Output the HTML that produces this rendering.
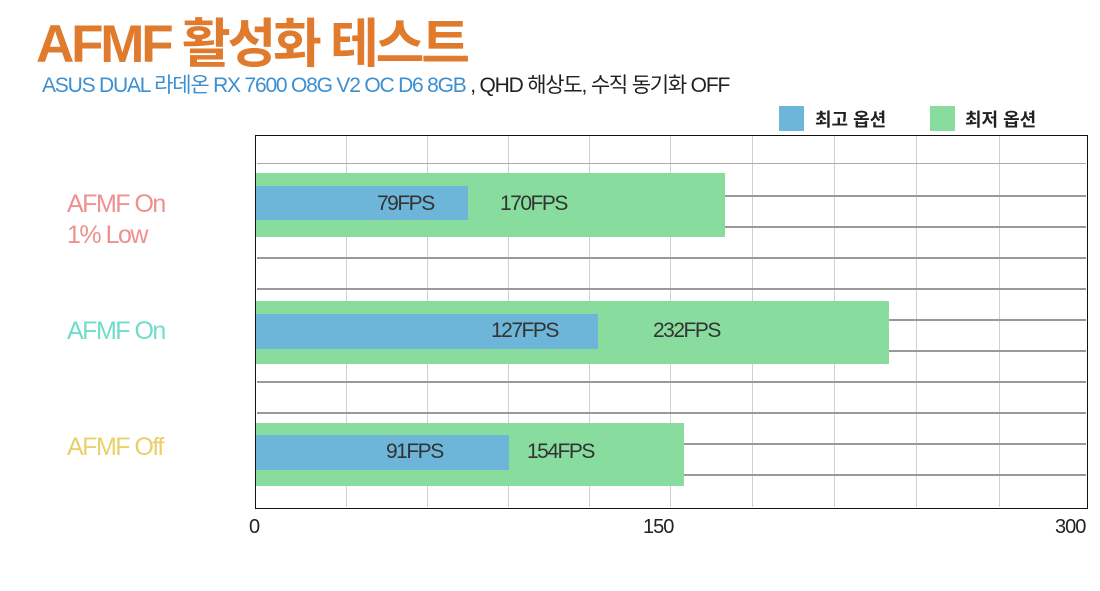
<!DOCTYPE html>
<html><head><meta charset="utf-8"><style>
body{margin:0;background:#fff;width:1100px;height:591px;position:relative;overflow:hidden;font-family:"Liberation Sans","Noto Sans CJK KR",sans-serif}
.a{position:absolute;white-space:nowrap}
.h{position:absolute;left:257px;width:829px;height:2px;background:#999}
.v{position:absolute;top:136px;height:371px;width:1px;background:#d0d0d0}
.lbl{font-size:21px;color:#333;letter-spacing:-1.5px}
</style></head><body>
<div class="a" style="left:36px;top:2px;font-size:53px;font-weight:bold;color:#e07a2c;letter-spacing:-3.2px">AFMF 활성화 테스트</div>
<div class="a" style="left:42px;top:69px;font-size:21px;color:#3c8fd0;letter-spacing:-1.2px">ASUS DUAL 라데온 RX 7600 O8G V2 OC D6 8GB <span style="color:#222">, QHD 해상도, 수직 동기화 OFF</span></div>
<div class="a" style="left:779px;top:106px;width:25px;height:25px;background:#6db6da"></div>
<div class="a" style="left:815px;top:106px;font-size:18px;font-weight:bold;color:#222">최고 옵션</div>
<div class="a" style="left:930px;top:106px;width:25px;height:25px;background:#87dc9e"></div>
<div class="a" style="left:965px;top:106px;font-size:18px;font-weight:bold;color:#222">최저 옵션</div>
<div class="a" style="left:255px;top:135px;width:831px;height:372px;border:1px solid #111"></div>
<div class="v" style="left:346px"></div><div class="v" style="left:427px"></div><div class="v" style="left:508px"></div><div class="v" style="left:589px"></div><div class="v" style="left:670px"></div><div class="v" style="left:752px"></div><div class="v" style="left:834px"></div><div class="v" style="left:916px"></div><div class="v" style="left:999px"></div>
<div class="h" style="top:163px;background:#aaa;height:1px"></div>
<div class="h" style="top:195px"></div><div class="h" style="top:226px"></div><div class="h" style="top:257px"></div><div class="h" style="top:288px"></div><div class="h" style="top:319px"></div><div class="h" style="top:350px"></div><div class="h" style="top:381px"></div><div class="h" style="top:412px"></div><div class="h" style="top:443px"></div><div class="h" style="top:474px"></div>
<div class="a" style="left:256px;top:173px;width:469px;height:64px;background:#87dc9e"></div>
<div class="a" style="left:256px;top:186px;width:212px;height:34px;background:#6db6da"></div>
<div class="a lbl" style="left:377px;top:192px">79FPS</div>
<div class="a lbl" style="left:500px;top:192px">170FPS</div>
<div class="a" style="left:256px;top:301px;width:633px;height:63px;background:#87dc9e"></div>
<div class="a" style="left:256px;top:314px;width:342px;height:35px;background:#6db6da"></div>
<div class="a lbl" style="left:491px;top:319px">127FPS</div>
<div class="a lbl" style="left:653px;top:319px">232FPS</div>
<div class="a" style="left:256px;top:423px;width:428px;height:63px;background:#87dc9e"></div>
<div class="a" style="left:256px;top:435px;width:253px;height:35px;background:#6db6da"></div>
<div class="a lbl" style="left:386px;top:440px">91FPS</div>
<div class="a lbl" style="left:527px;top:440px">154FPS</div>
<div class="a" style="left:67px;top:189px;font-size:25px;line-height:31px;color:#f08f8f;letter-spacing:-1.5px">AFMF On<br>1% Low</div>
<div class="a" style="left:67px;top:317px;font-size:25px;color:#6fdccc;letter-spacing:-1.5px">AFMF On</div>
<div class="a" style="left:67px;top:433px;font-size:25px;color:#ead06a;letter-spacing:-1.5px">AFMF Off</div>
<div class="a" style="left:249px;top:516px;font-size:20px;color:#222">0</div>
<div class="a" style="left:643px;top:516px;font-size:20px;color:#222;letter-spacing:-1px">150</div>
<div class="a" style="left:1055px;top:516px;font-size:20px;color:#222;letter-spacing:-1px">300</div>
</body></html>
